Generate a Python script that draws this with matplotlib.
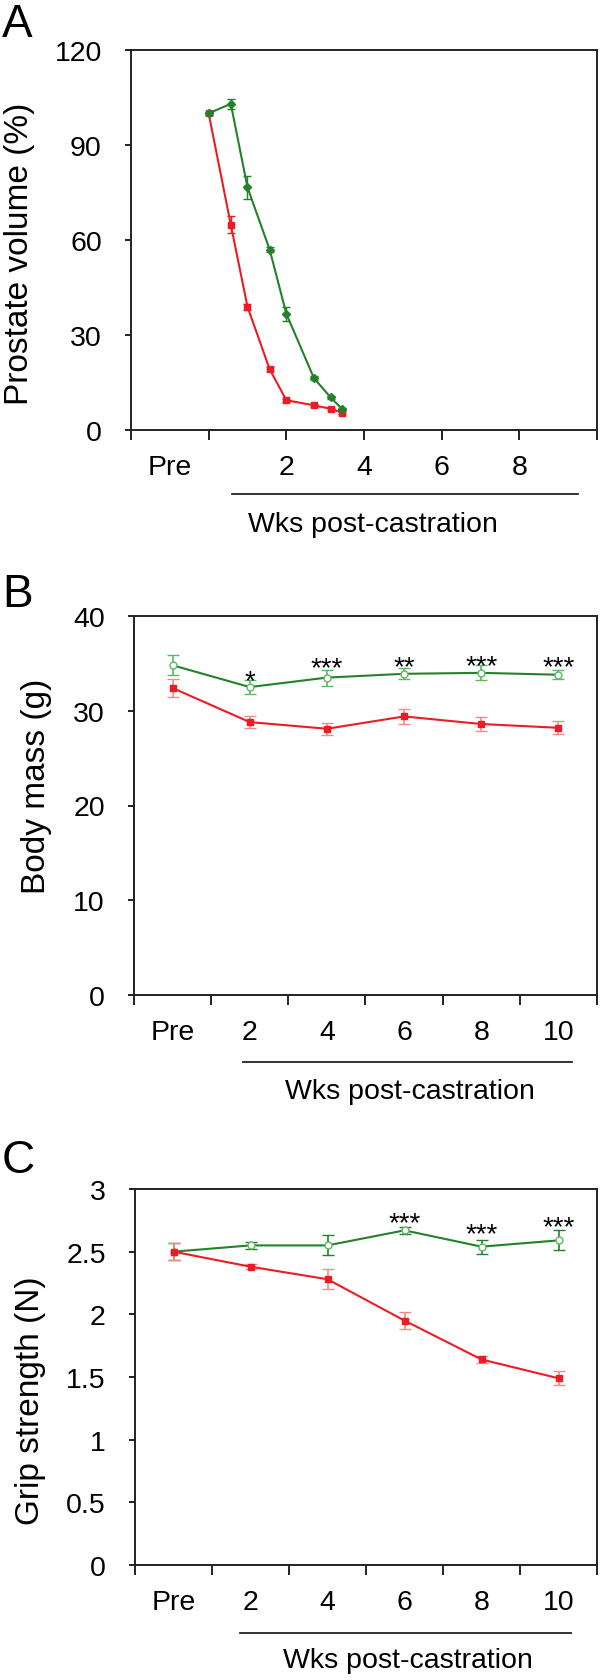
import matplotlib
matplotlib.use("Agg")
import matplotlib.pyplot as plt
import matplotlib.transforms as mtransforms

plt.rcParams["font.family"] = ["Liberation Sans", "DejaVu Sans"]

# ---- Panel A: prostate volume (weeks post-castration) ----
a_red_wk = [0.0, 0.57, 1.0, 1.57, 2.0, 2.71, 3.14, 3.43]
a_red_val = [100, 64.8, 38.9, 19.2, 9.4, 7.8, 6.7, 5.5]
a_red_err = [0.5, 2.7, 1.0, 0.6, 0.5, 0.4, 0.4, 0.4]
a_grn_wk = [0.0, 0.57, 1.0, 1.57, 2.0, 2.71, 3.14, 3.43]
a_grn_val = [100, 103, 76.6, 57, 36.7, 16.4, 10.3, 6.7]
a_grn_err = [0.5, 1.5, 3.5, 0.8, 2.2, 0.6, 0.5, 0.4]
a_yticks = [0, 30, 60, 90, 120]
a_xlabels = ["Pre", "2", "4", "6", "8"]
a_xlabel_pos = [-1, 2, 4, 6, 8]

# ---- Panels B / C: categorical time points ----
cats = ["Pre", "2", "4", "6", "8", "10"]

b_grn = [34.8, 32.5, 33.5, 33.9, 34.0, 33.8]
b_grn_err = [1.05, 0.7, 0.85, 0.6, 0.8, 0.5]
b_red = [32.4, 28.8, 28.1, 29.4, 28.6, 28.2]
b_red_err = [0.95, 0.6, 0.65, 0.8, 0.7, 0.7]
b_stars = ["", "*", "***", "**", "***", "***"]
b_star_y = [0, 34.1, 35.4, 35.5, 35.7, 35.5]
b_yticks = [0, 10, 20, 30, 40]

c_grn = [2.50, 2.55, 2.55, 2.67, 2.54, 2.59]
c_grn_err = [0.07, 0.03, 0.08, 0.03, 0.055, 0.08]
c_red = [2.50, 2.38, 2.28, 1.95, 1.64, 1.49]
c_red_err = [0.07, 0.02, 0.08, 0.07, 0.03, 0.055]
c_stars = ["", "", "", "***", "***", "***"]
c_star_y = [0, 0, 0, 2.80, 2.71, 2.77]
c_yticks = [0, 0.5, 1, 1.5, 2, 2.5, 3]
c_yticklabels = ["0", "0.5", "1", "1.5", "2", "2.5", "3"]

RED = "#ec1c24"
RED_LIGHT = "#f28a8a"
GREEN = "#23812a"
GREEN_LIGHT = "#5cb860"

W, H = 600, 1681
fig = plt.figure(figsize=(W / 100, H / 100), dpi=100)


def px_rect(left, top, right, bottom):
    return [left / W, 1 - bottom / H, (right - left) / W, (bottom - top) / H]


def style_axes(ax):
    for sp in ax.spines.values():
        sp.set_linewidth(1.4)
        sp.set_color("#222222")
    ax.xaxis.remove_overlapping_locs = False
    ax.tick_params(axis="y", which="major", direction="out", length=4,
                   width=1.4, labelsize=20.5, color="#222222", pad=17)
    ax.tick_params(axis="x", which="major", direction="out", length=7,
                   width=1.4, color="#222222", labelbottom=False)
    ax.tick_params(axis="x", which="minor", length=0, pad=17, labelsize=20.5)


def wks_label(ax, x0, x1, xtext, yline, ytext):
    trans = mtransforms.blended_transform_factory(ax.transData, ax.transAxes)
    ax.plot([x0, x1], [yline, yline], transform=trans, color="#222222",
            lw=1.3, clip_on=False)
    ax.text(xtext, ytext, "Wks post-castration", transform=trans, ha="center",
            va="center", fontsize=20.5)


# ---------------- Panel A ----------------
axA = fig.add_axes(px_rect(131, 51, 597, 431))
axA.errorbar(a_grn_wk, a_grn_val, yerr=a_grn_err, color=GREEN, lw=1.5,
             marker="D", ms=4.5, mfc=GREEN, mec=GREEN, ecolor=GREEN,
             elinewidth=1, capsize=3, zorder=3)
axA.errorbar(a_red_wk, a_red_val, yerr=a_red_err, color=RED, lw=1.5,
             marker="s", ms=4.5, mfc=RED, mec=RED, ecolor=RED,
             elinewidth=1, capsize=3, zorder=2)
axA.set_xlim(-2, 10)
axA.set_ylim(0, 120)
axA.set_xticks(range(-2, 11, 2))
axA.set_xticks(a_xlabel_pos, minor=True)
axA.set_xticklabels(a_xlabels, minor=True)
axA.set_yticks(a_yticks)
style_axes(axA)
axA.set_ylabel("Prostate volume (%)", fontsize=24, va="center")
axA.yaxis.set_label_coords(-0.239, 0.466)
wks_label(axA, 0.59, 9.51, 4.24, -0.168, -0.247)

# ---------------- Panel B ----------------
axB = fig.add_axes(px_rect(134, 617, 597, 996))
xs = list(range(len(cats)))
axB.errorbar(xs, b_red, yerr=b_red_err, color=RED, lw=1.5, marker="s",
             ms=5, mfc=RED, mec=RED, ecolor=RED_LIGHT, elinewidth=1.2,
             capsize=4, zorder=2)
axB.errorbar(xs, b_grn, yerr=b_grn_err, color=GREEN, lw=1.5, marker="o",
             ms=5, mfc="white", mec=GREEN_LIGHT, ecolor=GREEN_LIGHT,
             elinewidth=1.2, capsize=4, zorder=3)
for x, s, y in zip(xs, b_stars, b_star_y):
    if s:
        axB.annotate(s, (x, y), xytext=(0, -11.5), textcoords="offset points",
                     ha="center", va="baseline", fontsize=20)
axB.set_xlim(-0.5, 5.5)
axB.set_ylim(0, 40)
axB.set_xticks([i - 0.5 for i in range(len(cats) + 1)])
axB.set_xticks(xs, minor=True)
axB.set_xticklabels(cats, minor=True)
axB.set_yticks(b_yticks)
style_axes(axB)
axB.set_ylabel("Body mass (g)", fontsize=24, va="center")
axB.yaxis.set_label_coords(-0.21, 0.554)
wks_label(axB, 0.91, 5.17, 3.07, -0.177, -0.253)

# ---------------- Panel C ----------------
axC = fig.add_axes(px_rect(135, 1190, 597, 1566))
axC.errorbar(xs, c_grn, yerr=c_grn_err, color=GREEN, lw=1.5, marker="o",
             ms=5, mfc="white", mec=GREEN_LIGHT, ecolor=GREEN,
             elinewidth=1.2, capsize=4, zorder=2)
axC.errorbar(xs, c_red, yerr=c_red_err, color=RED, lw=1.5, marker="s",
             ms=5, mfc=RED, mec=RED, ecolor=RED_LIGHT, elinewidth=1.2,
             capsize=4, zorder=3)
for x, s, y in zip(xs, c_stars, c_star_y):
    if s:
        axC.annotate(s, (x, y), xytext=(0, -11.5), textcoords="offset points",
                     ha="center", va="baseline", fontsize=20)
axC.set_xlim(-0.5, 5.5)
axC.set_ylim(0, 3)
axC.set_xticks([i - 0.5 for i in range(len(cats) + 1)])
axC.set_xticks(xs, minor=True)
axC.set_xticklabels(cats, minor=True)
axC.set_yticks(c_yticks)
axC.set_yticklabels(c_yticklabels)
style_axes(axC)
axC.set_ylabel("Grip strength (N)", fontsize=24, va="center")
axC.yaxis.set_label_coords(-0.227, 0.44)
wks_label(axC, 0.87, 5.16, 3.05, -0.181, -0.253)

# panel letters
for letter, base in [("A", 37), ("B", 607), ("C", 1173)]:
    fig.text(2 / W, 1 - base / H, letter, fontsize=33, ha="left",
             va="baseline")

fig.savefig("out.png", dpi=100)
